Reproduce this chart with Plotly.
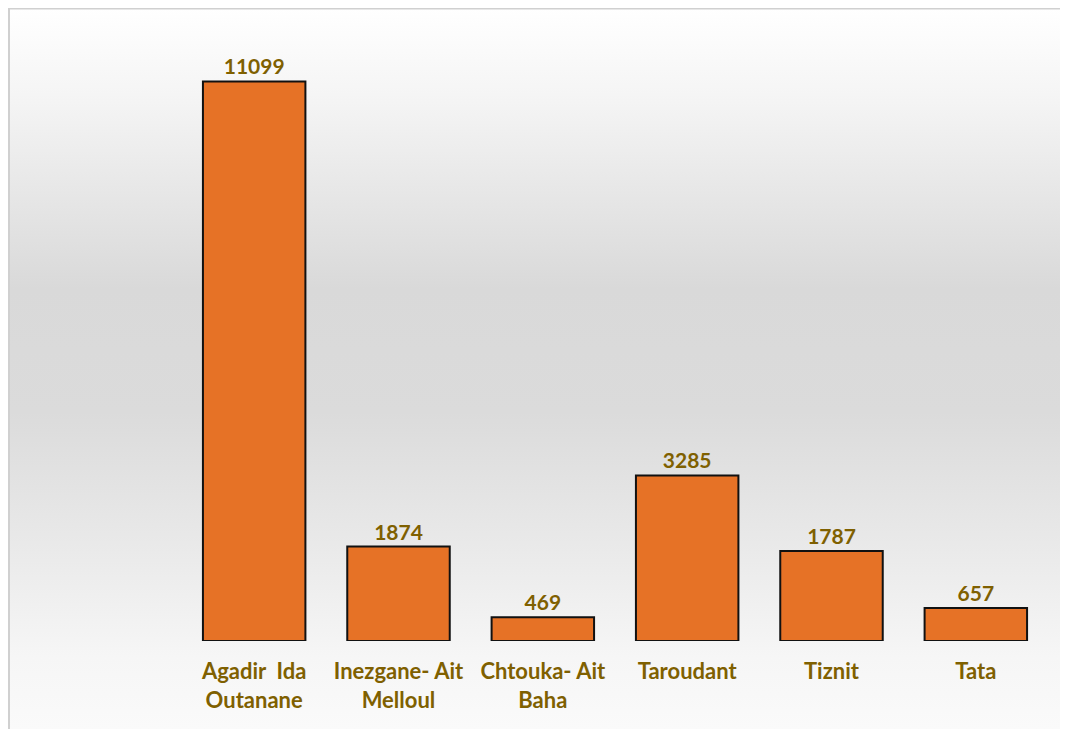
import base64
import plotly.graph_objects as go

categories = ["Agadir  Ida<br>Outanane", "Inezgane- Ait<br>Melloul", "Chtouka- Ait<br>Baha",
              "Taroudant", "Tiznit", "Tata"]
values = [11099, 1874, 469, 3285, 1787, 657]

# page body adds an 8px offset; the figure is sized to fit the window after it
W, H = 1060, 721
ML, MR, MT, MB = 174, 20, 28, 88
ymax = 12000

label_color = "#7F6000"
font_family = "Lato, 'Open Sans', sans-serif"

svg = (
    '<svg xmlns="http://www.w3.org/2000/svg" width="100" height="100" preserveAspectRatio="none">'
    '<defs><linearGradient id="g" x1="0" y1="0" x2="0" y2="1">'
    '<stop offset="0" stop-color="#ffffff"/>'
    '<stop offset="0.12" stop-color="#f5f5f5"/>'
    '<stop offset="0.39" stop-color="#d9d9d9"/>'
    '<stop offset="0.56" stop-color="#dbdbdb"/>'
    '<stop offset="0.73" stop-color="#e8e8e8"/>'
    '<stop offset="0.9" stop-color="#f6f6f6"/>'
    '<stop offset="1" stop-color="#fafafa"/>'
    '</linearGradient></defs>'
    '<rect x="0" y="0" width="100" height="100" fill="url(#g)"/></svg>'
)
src = "data:image/svg+xml;base64," + base64.b64encode(svg.encode()).decode()

pw = W - ML - MR
ph = H - MT - MB
img_x = -ML / pw
img_y = (H - MB) / ph
img_sx = W / pw
img_sy = H / ph

fig = go.Figure()
fig.add_trace(go.Bar(
    x=categories, y=values,
    marker=dict(color="#E67226", line=dict(color="#111111", width=2)),
    text=[str(v) for v in values],
    textposition="outside",
    textfont=dict(family=font_family, size=21, color=label_color, weight="bold"),
    cliponaxis=False,
    width=0.71,
))

border = dict(color="#d0d0d0", width=2)
fig.update_layout(
    width=W, height=H,
    margin=dict(l=ML, r=MR, t=MT, b=MB, pad=0),
    paper_bgcolor="white",
    plot_bgcolor="rgba(0,0,0,0)",
    showlegend=False,
    images=[dict(source=src, xref="paper", yref="paper", x=img_x, y=img_y,
                 sizex=img_sx, sizey=img_sy, xanchor="left", yanchor="top",
                 sizing="stretch", layer="below")],
    shapes=[
        dict(type="line", xref="paper", yref="paper",
             x0=img_x + 1 / pw, x1=img_x + 1 / pw, y0=img_y - img_sy, y1=img_y, line=border, layer="below"),
        dict(type="line", xref="paper", yref="paper",
             x0=img_x, x1=img_x + img_sx, y0=img_y - 0.5 / ph, y1=img_y - 0.5 / ph, line=border, layer="below"),
    ],
    xaxis=dict(showgrid=False, zeroline=False, showline=False, ticks="", automargin=False,
               tickfont=dict(family=font_family, size=22, color=label_color, weight="bold"),
               ticklabelstandoff=15),
    yaxis=dict(range=[0, ymax], visible=False, showgrid=False, zeroline=False, automargin=False),
)

fig.write_html("out.html")
